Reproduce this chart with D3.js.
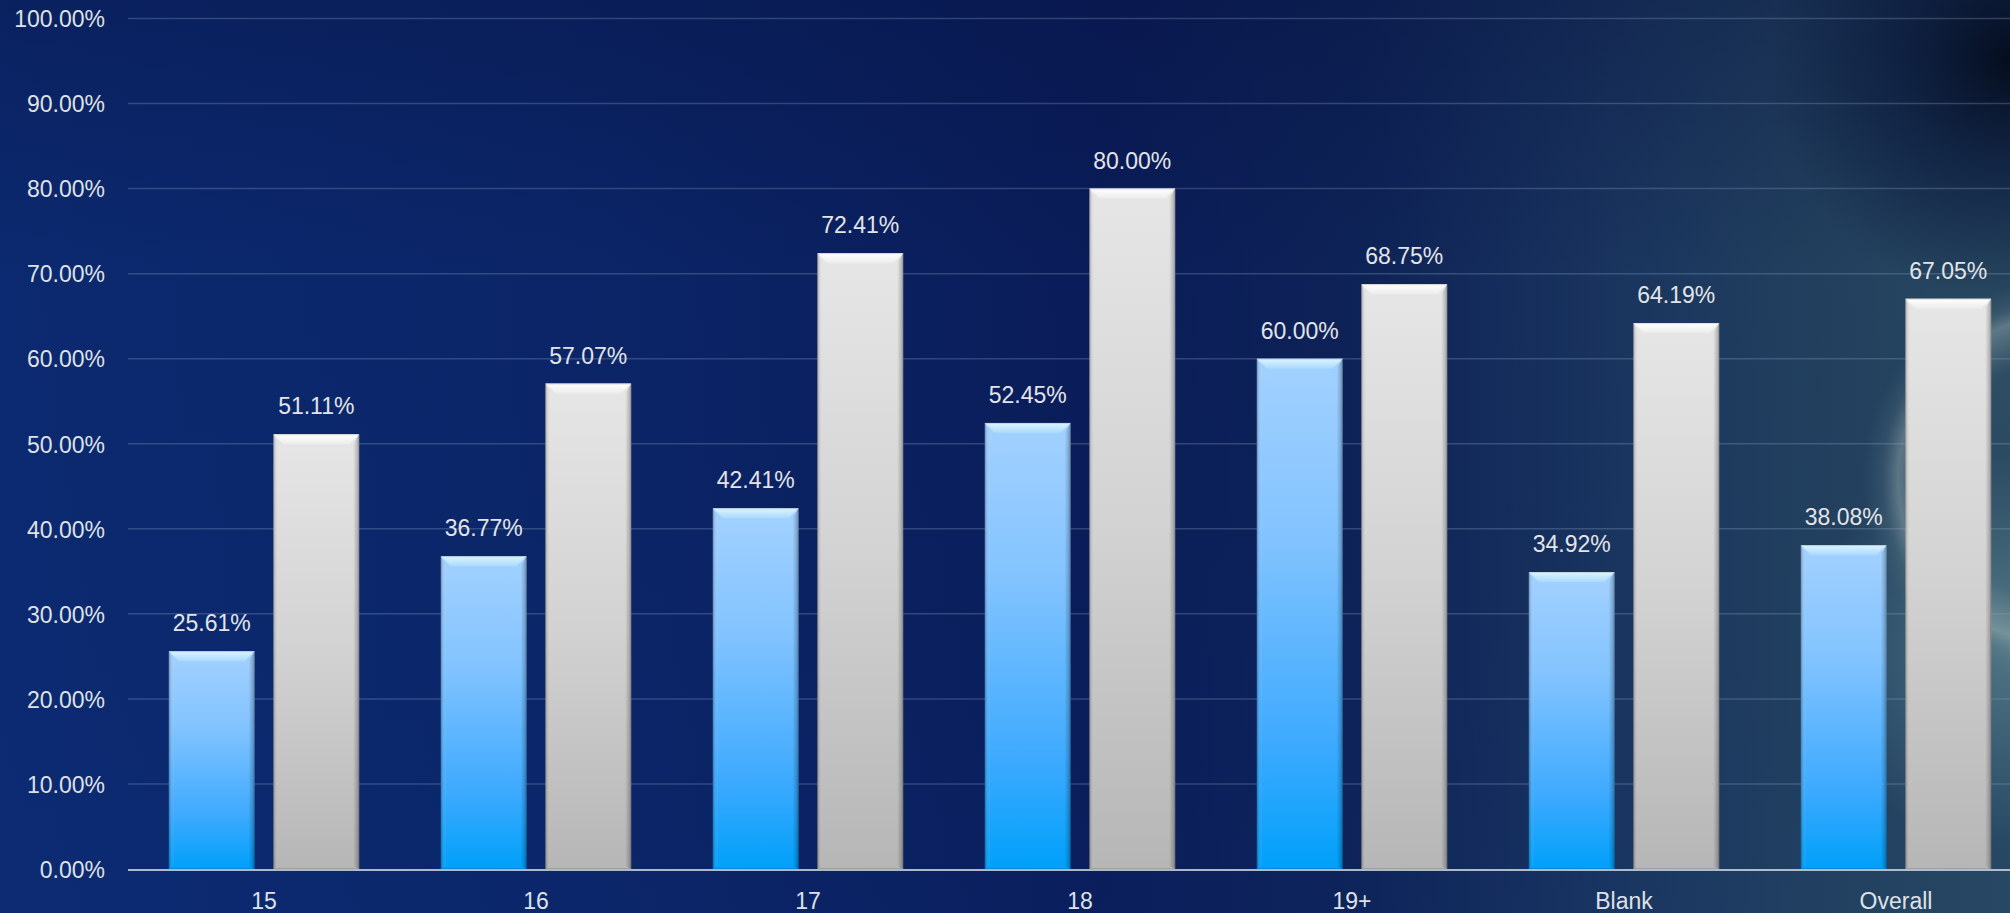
<!DOCTYPE html>
<html>
<head>
<meta charset="utf-8">
<script src="https://cdn.jsdelivr.net/npm/d3@7"></script>
<style>
  html, body { margin: 0; padding: 0; background: #0b2466; overflow: hidden; }
  svg { display: block; }
  text { font-family: "Liberation Sans", Arial, sans-serif; }
</style>
</head>
<body>
<svg id="chart" width="2010" height="913"></svg>
<script>
// Categories and the two series (percent values)
const categories = ["15", "16", "17", "18", "19+", "Blank", "Overall"];
const seriesNames = ["blue", "gray"];
const blueValues = [25.61, 36.77, 42.41, 52.45, 60.00, 34.92, 38.08];
const grayValues = [51.11, 57.07, 72.41, 80.00, 68.75, 64.19, 67.05];
const yTicks = [0, 10, 20, 30, 40, 50, 60, 70, 80, 90, 100];

const W = 2010, H = 913;
const svg = d3.select("#chart");
const defs = svg.append("defs");

// ---- background ----
const bgH = defs.append("linearGradient").attr("id", "bgH").attr("x1", 0).attr("x2", 1).attr("y1", 0).attr("y2", 0);
[[0, "#0c2b73"], [0.3, "#0b2669"], [0.55, "#0a1d5a"], [0.68, "#0e2458"], [0.8, "#1a3660"], [0.9, "#23425f"], [1, "#2a4b62"]]
  .forEach(([o, c]) => bgH.append("stop").attr("offset", o).attr("stop-color", c));

const bgV = defs.append("linearGradient").attr("id", "bgV").attr("x1", 0).attr("x2", 0).attr("y1", 0).attr("y2", 1);
[[0, "#050f3a", 0.35], [0.3, "#050f3a", 0.05], [1, "#0a2a70", 0.1]]
  .forEach(([o, c, a]) => bgV.append("stop").attr("offset", o).attr("stop-color", c).attr("stop-opacity", a));

const glow = defs.append("radialGradient").attr("id", "glow")
  .attr("gradientUnits", "userSpaceOnUse").attr("cx", 2062).attr("cy", 480).attr("r", 200);
[[0, "#9fb4b0", 0.0], [0.6, "#9fb4b0", 0.05], [0.82, "#b8c8c4", 0.38], [0.9, "#8aa2a4", 0.14], [1, "#6c8c96", 0]]
  .forEach(([o, c, a]) => glow.append("stop").attr("offset", o).attr("stop-color", c).attr("stop-opacity", a));

const corner = defs.append("radialGradient").attr("id", "corner")
  .attr("gradientUnits", "userSpaceOnUse").attr("cx", 2010).attr("cy", 60).attr("r", 240);
[[0, "#020818", 0.9], [0.5, "#041033", 0.5], [1, "#041033", 0]]
  .forEach(([o, c, a]) => corner.append("stop").attr("offset", o).attr("stop-color", c).attr("stop-opacity", a));

const lowRight = defs.append("radialGradient").attr("id", "lowRight")
  .attr("gradientUnits", "userSpaceOnUse").attr("cx", 2010).attr("cy", 650).attr("r", 200);
[[0, "#6f9aa2", 0.55], [1, "#6f9aa2", 0]]
  .forEach(([o, c, a]) => lowRight.append("stop").attr("offset", o).attr("stop-color", c).attr("stop-opacity", a));

svg.append("rect").attr("width", W).attr("height", H).attr("fill", "url(#bgH)");
svg.append("rect").attr("width", W).attr("height", H).attr("fill", "url(#bgV)");
svg.append("rect").attr("width", W).attr("height", H).attr("fill", "url(#lowRight)");
svg.append("rect").attr("width", W).attr("height", H).attr("fill", "url(#glow)");
svg.append("rect").attr("width", W).attr("height", H).attr("fill", "url(#corner)");

// ---- scales ----
const plotLeft = 128, plotRight = 2032, y0 = 869, y100 = 18.5;
const x0 = d3.scaleBand().domain(categories).range([plotLeft, plotRight]).paddingInner(0.3).paddingOuter(0.15);
const x1 = d3.scaleBand().domain(seriesNames).range([0, x0.bandwidth()]).paddingInner(0.18);
const y = d3.scaleLinear().domain([0, 100]).range([y0, y100]);

// ---- grid ----
const grid = svg.append("g");
grid.selectAll("line").data(yTicks.filter(t => t > 0)).join("line")
  .attr("x1", plotLeft).attr("x2", W)
  .attr("y1", d => y(d)).attr("y2", d => y(d))
  .attr("stroke", "#8ea3c8").attr("stroke-opacity", 0.3).attr("stroke-width", 1.5);

// ---- y axis labels ----
const yAxis = d3.axisLeft(y).tickValues(yTicks).tickSize(0).tickPadding(0)
  .tickFormat(d => d3.format(".2f")(d) + "%");
const yg = svg.append("g").attr("transform", `translate(105,0)`).call(yAxis);
yg.select(".domain").remove();
yg.selectAll("text").attr("fill", "#dfe1e6").attr("font-size", 23).attr("dy", "0.36em");

// ---- bar gradients ----
function vGrad(id, stops) {
  const g = defs.append("linearGradient").attr("id", id).attr("x1", 0).attr("x2", 0).attr("y1", 0).attr("y2", 1);
  stops.forEach(([o, c]) => g.append("stop").attr("offset", o).attr("stop-color", c));
}
vGrad("blueBody", [[0, "#a3d1ff"], [0.35, "#82c3ff"], [0.75, "#3eaafe"], [1, "#00a0fa"]]);
vGrad("grayBody", [[0, "#e6e6e6"], [0.5, "#d2d2d2"], [1, "#b6b6b6"]]);
vGrad("blueTop", [[0, "#dff4ff"], [1, "#a8daff"]]);
vGrad("grayTop", [[0, "#ffffff"], [1, "#ececec"]]);
const hR = defs.append("linearGradient").attr("id", "sideR").attr("x1", 0).attr("x2", 1).attr("y1", 0).attr("y2", 0);
hR.append("stop").attr("offset", 0).attr("stop-color", "#000").attr("stop-opacity", 0.0);
hR.append("stop").attr("offset", 1).attr("stop-color", "#000").attr("stop-opacity", 0.28);
const hL = defs.append("linearGradient").attr("id", "sideL").attr("x1", 0).attr("x2", 1).attr("y1", 0).attr("y2", 0);
hL.append("stop").attr("offset", 0).attr("stop-color", "#000").attr("stop-opacity", 0.18);
hL.append("stop").attr("offset", 1).attr("stop-color", "#fff").attr("stop-opacity", 0.05);

const rows = categories.map((c, i) => ({ cat: c, values: [
  { key: "blue", value: blueValues[i] },
  { key: "gray", value: grayValues[i] }
]}));

const groups = svg.append("g").selectAll("g").data(rows).join("g")
  .attr("transform", d => `translate(${x0(d.cat)},0)`);

const bars = groups.selectAll("g.bar").data(d => d.values).join("g").attr("class", "bar");
const bev = 10;

bars.each(function(d) {
  const g = d3.select(this);
  const bx = x1(d.key), bw = x1.bandwidth();
  const top = y(d.value), bot = y(0);
  g.append("rect").attr("x", bx).attr("y", top).attr("width", bw).attr("height", bot - top)
    .attr("fill", d.key === "blue" ? "url(#blueBody)" : "url(#grayBody)");
  // left and right bevel facets
  g.append("polygon").attr("points", [[bx, top], [bx + bev * 0.5, top + bev], [bx + bev * 0.5, bot - 3], [bx, bot]].join(" "))
    .attr("fill", "url(#sideL)");
  g.append("polygon").attr("points", [[bx + bw, top], [bx + bw - bev * 0.6, top + bev], [bx + bw - bev * 0.6, bot - 3], [bx + bw, bot]].join(" "))
    .attr("fill", "url(#sideR)");
  // top bevel facet
  g.append("polygon").attr("points", [[bx, top], [bx + bw, top], [bx + bw - bev, top + bev], [bx + bev, top + bev]].join(" "))
    .attr("fill", d.key === "blue" ? "url(#blueTop)" : "url(#grayTop)");
  // thin edge outline
  g.append("rect").attr("x", bx + 0.5).attr("y", top + 0.5).attr("width", bw - 1).attr("height", bot - top - 1)
    .attr("fill", "none").attr("stroke", "#000").attr("stroke-opacity", 0.12);
});

// value labels
bars.append("text")
  .attr("x", d => x1(d.key) + x1.bandwidth() / 2)
  .attr("y", d => y(d.value) - 20)
  .attr("text-anchor", "middle")
  .attr("fill", "#e2e4e8").attr("font-size", 23)
  .text(d => d3.format(".2f")(d.value) + "%");

// ---- baseline and category labels ----
svg.append("line").attr("x1", plotLeft).attr("x2", W).attr("y1", y0 + 1).attr("y2", y0 + 1)
  .attr("stroke", "#c9d2e2").attr("stroke-opacity", 0.85).attr("stroke-width", 2);

const xAxis = d3.axisBottom(x0).tickSize(0).tickPadding(0);
const xg = svg.append("g").attr("transform", `translate(0,${y0})`).call(xAxis);
xg.select(".domain").remove();
xg.selectAll("text").attr("fill", "#dfe1e6").attr("font-size", 23).attr("dy", 0).attr("y", 40);
</script>
</body>
</html>
